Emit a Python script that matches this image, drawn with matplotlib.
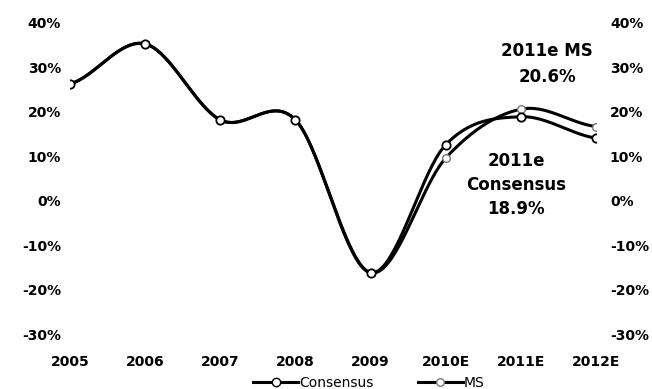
import numpy as np
import matplotlib.pyplot as plt
from matplotlib.ticker import FuncFormatter

years = ['2005', '2006', '2007', '2008', '2009', '2010E', '2011E', '2012E']
consensus = [26.3, 35.3, 18.2, 18.2, -16.2, 12.6, 18.9, 14.1]
ms = [26.3, 35.3, 18.2, 18.2, -16.2, 9.6, 20.6, 16.7]


def smooth(xs, ys, n=40):
    # catmull-rom style smoothing, like excel's smoothed line
    xs = np.asarray(xs, float)
    ys = np.asarray(ys, float)
    px = np.concatenate([[2 * xs[0] - xs[1]], xs, [2 * xs[-1] - xs[-2]]])
    py = np.concatenate([[ys[0]], ys, [ys[-1]]])
    outx, outy = [], []
    t = np.linspace(0, 1, n)
    for i in range(1, len(px) - 2):
        for p, out in ((px, outx), (py, outy)):
            p0, p1, p2, p3 = p[i - 1], p[i], p[i + 1], p[i + 2]
            c1 = p1 + (p2 - p0) / 6
            c2 = p2 - (p3 - p1) / 6
            out.extend((1 - t) ** 3 * p1 + 3 * (1 - t) ** 2 * t * c1
                       + 3 * (1 - t) * t ** 2 * c2 + t ** 3 * p2)
    return np.array(outx), np.array(outy)


x = np.arange(len(years))
pct = FuncFormatter(lambda v, p: '%d%%' % v)

fig = plt.figure(figsize=(6.52, 3.89), dpi=100)
ax = fig.add_axes([70 / 652, 1 - 334 / 389, 526 / 652, 311 / 389])

sx, sy = smooth(x, ms)
ax.plot(sx, sy, color='black', lw=2.2, zorder=2)
ax.plot(x, ms, 'o', ms=5.5, mfc='white', mec='#777777', mew=1, ls='none', zorder=3)

sx, sy = smooth(x, consensus)
ax.plot(sx, sy, color='black', lw=2.2, zorder=2)
ax.plot(x, consensus, 'o', ms=6, mfc='white', mec='black', mew=1.3, ls='none', zorder=3)

ax.set_xlim(0, 7)
ax.set_ylim(-30, 40)
ax.set_yticks(range(-30, 41, 10))
ax.set_xticks(x)
ax.set_xticklabels(years, fontsize=10, fontweight='bold')
ax.yaxis.set_major_formatter(pct)
for lab in ax.get_yticklabels():
    lab.set_fontweight('bold')
    lab.set_fontsize(10)
ax.tick_params(length=0)
ax.tick_params(axis='y', pad=6.5)
ax.tick_params(axis='x', pad=15)
for s in ax.spines.values():
    s.set_visible(False)

ax2 = ax.twinx()
ax2.set_ylim(-30, 40)
ax2.set_yticks(range(-30, 41, 10))
ax2.yaxis.set_major_formatter(pct)
ax2.tick_params(length=0, pad=10, labelsize=10)
for lab in ax2.get_yticklabels():
    lab.set_fontweight('bold')
for s in ax2.spines.values():
    s.set_visible(False)

ax.text(6.35, 30.8, '2011e MS\n20.6%', ha='center', va='center', fontsize=12,
        fontweight='bold', linespacing=1.6)
ax.text(5.94, 3.5, '2011e\nConsensus\n18.9%', ha='center', va='center', fontsize=12,
        fontweight='bold', linespacing=1.45)

h1, = ax.plot([], [], color='black', lw=2.2, marker='o', ms=6, mfc='white', mec='black')
h2, = ax.plot([], [], color='black', lw=2.2, marker='o', ms=5.5, mfc='white', mec='#777777')
fig.legend([h1, h2], ['Consensus', 'MS'], loc='center', bbox_to_anchor=(0.566, 1 - 383 / 389),
           ncol=2, frameon=False, fontsize=10, handlelength=3.2, columnspacing=3.2,
           handletextpad=0.1, borderpad=0)

fig.savefig('out.png', dpi=100)
